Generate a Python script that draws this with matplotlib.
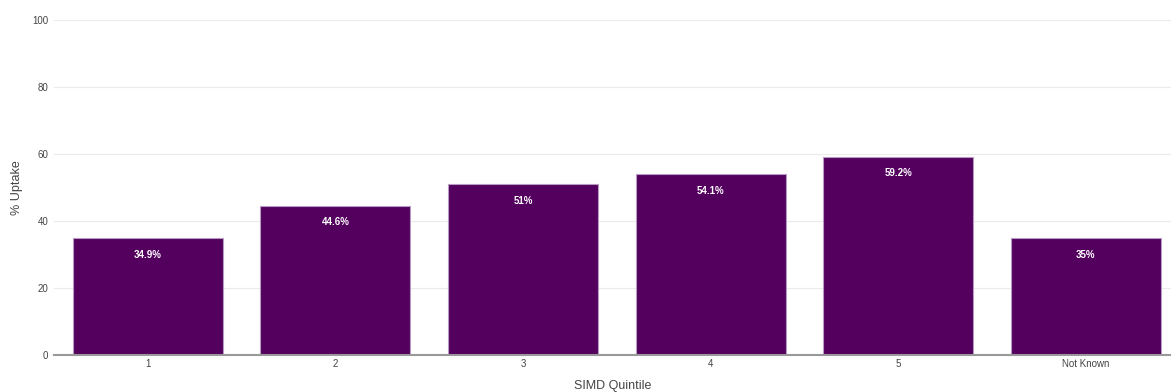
import matplotlib.pyplot as plt

plt.rcParams['font.family'] = ['Liberation Sans', 'DejaVu Sans']

# Data
categories = ["1", "2", "3", "4", "5", "Not Known"]
uptake = [34.9, 44.6, 51, 54.1, 59.2, 35]
labels = ["34.9%", "44.6%", "51%", "54.1%", "59.2%", "35%"]

fig = plt.figure(figsize=(11.71, 3.92), dpi=100)
ax = fig.add_axes([54 / 1171, 1 - 355 / 392, 1 - 54 / 1171, 335 / 392])

x = range(len(categories))
bars = ax.bar(x, uptake, width=0.8, color="#53005f", edgecolor="#b79bc0", linewidth=0.8, zorder=2)

for bar, lab in zip(bars, labels):
    ax.text(bar.get_x() + bar.get_width() / 2, bar.get_height() - 5, lab,
            ha="center", va="center", color="white", fontsize=7, fontweight="bold", zorder=3)

ax.set_ylim(0, 100)
ax.set_xlim(-0.5, -0.5 + 1117 / 187.6)
ax.set_yticks([0, 20, 40, 60, 80, 100])
ax.set_xticks(list(x))
ax.set_xticklabels(categories)
ax.tick_params(axis="both", length=0, labelsize=7, labelcolor="#444444")
ax.tick_params(axis="y", pad=4)
ax.tick_params(axis="x", pad=3)
ax.grid(axis="y", color="#ebebeb", linewidth=0.8, zorder=0)
for side in ["top", "right", "left"]:
    ax.spines[side].set_visible(False)
ax.spines["bottom"].set_color("#999999")
ax.spines["bottom"].set_linewidth(1.5)
ax.spines["bottom"].set_zorder(3)

ax.set_xlabel("SIMD Quintile", fontsize=9, color="#444444", labelpad=8)
ax.set_ylabel("% Uptake", fontsize=9, color="#444444", labelpad=7)

fig.savefig("out.png", dpi=100)
